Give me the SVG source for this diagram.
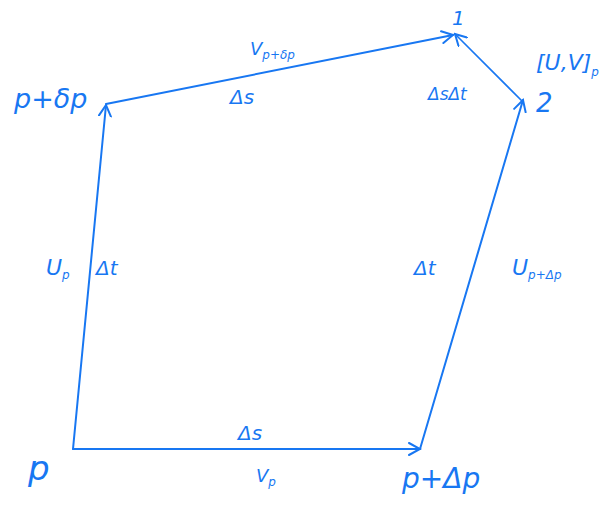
<svg xmlns="http://www.w3.org/2000/svg" width="605" height="507" viewBox="0 0 605 507">
<style>
.e{stroke:#1877f2;stroke-width:2;fill:none;stroke-linecap:round}
text{fill:#1877f2;font-family:"DejaVu Sans",sans-serif;font-style:italic}
.b{font-size:26px}
.m{font-size:20px}
.s{font-size:14px}
.t{font-size:12px}
</style>
<defs>
<marker id="a" markerWidth="14" markerHeight="14" refX="12" refY="7" orient="auto" markerUnits="userSpaceOnUse">
<path d="M1,1 L12,7 L1,13" fill="none" stroke="#1877f2" stroke-width="2" stroke-linecap="round"/>
</marker>
</defs>
<rect width="605" height="507" fill="#fff"/>
<g id="connectors">
<line class="e" x1="73" y1="449" x2="420" y2="449" marker-end="url(#a)"/>
<line class="e" x1="73" y1="449" x2="106" y2="105" marker-end="url(#a)"/>
<line class="e" x1="106" y1="104" x2="453" y2="35" marker-end="url(#a)"/>
<line class="e" x1="420" y1="449" x2="523" y2="100" marker-end="url(#a)"/>
<line class="e" style="stroke-width:1.6" x1="523" y1="102" x2="455" y2="34" marker-end="url(#a)"/>
</g>
<g id="node-p"><text x="28" y="480" style="font-size:34px">p</text></g>
<g id="node-p-plus-delta-p"><text x="402" y="488" style="font-size:28px">p+Δp</text></g>
<g id="node-p-plus-dp"><text x="14" y="108" style="font-size:27px">p+δp</text></g>
<g id="node-1"><text class="m" x="452" y="25">1</text></g>
<g id="node-2"><text class="b" x="536" y="112">2</text></g>
<g id="labels">
<text class="m" x="238" y="440">Δs</text>
<text x="256" y="482" style="font-size:18px">V<tspan class="t" dy="4">p</tspan></text>
<text x="96" y="275" class="m">Δt</text>
<text x="46" y="275" style="font-size:22px">U<tspan class="t" dy="4">p</tspan></text>
<text x="414" y="275" class="m">Δt</text>
<text x="512" y="275" style="font-size:22px">U<tspan class="t" dy="4">p+Δp</tspan></text>
<text x="230" y="104" class="m">Δs</text>
<text x="250" y="55" style="font-size:18px">V<tspan class="t" dy="4">p+δp</tspan></text>
<text x="428" y="100" style="font-size:17px">ΔsΔt</text>
<text x="536" y="70" style="font-size:22px">[U,V]<tspan class="t" dy="6">p</tspan></text>
</g>
</svg>
